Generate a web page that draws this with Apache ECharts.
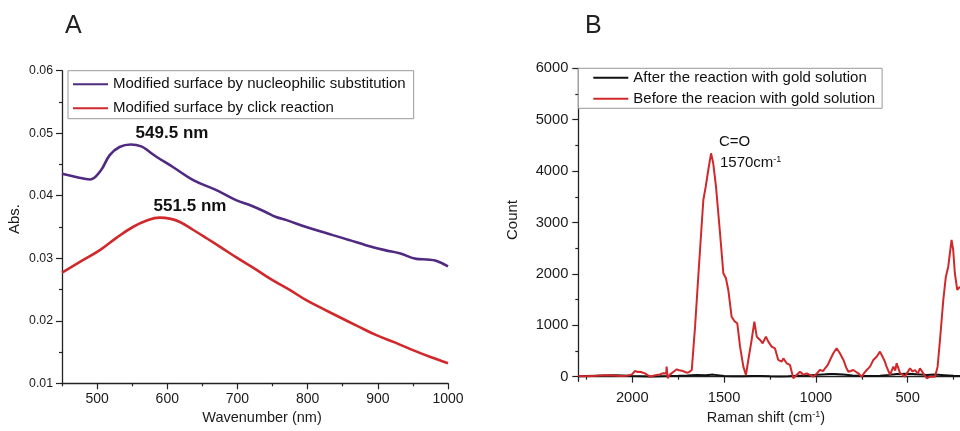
<!DOCTYPE html>
<html><head><meta charset="utf-8">
<script src="https://cdn.jsdelivr.net/npm/echarts@6/dist/echarts.min.js"></script>
<style>html,body{margin:0;padding:0;background:#fff}#c{width:960px;height:431px}</style>
</head><body><div id="c"></div>
<script>
// ---- Panel A data (UV-vis) ----
const uvNucleo = [[450,0.0435],[470,0.0430],[490,0.0426],[505,0.0440],[518,0.0465],[532,0.0478],[548,0.0482],[563,0.0479],[575,0.0470],[585,0.0462],[608,0.0446],[637,0.0425],[670,0.0409],[698,0.0393],[720,0.0384],[740,0.0374],[755,0.0366],[770,0.0361],[798,0.0350],[836,0.0337],[860,0.0329],[883,0.0321],[910,0.0313],[931,0.0308],[955,0.0299],[970,0.0298],[983,0.0296],[1000,0.0287]];
const uvClick = [[450,0.0277],[475,0.0294],[504,0.0313],[528,0.0333],[551,0.0350],[570,0.0360],[589,0.0365],[605,0.0363],[618,0.0358],[636,0.0346],[656,0.0332],[677,0.0317],[699,0.0301],[725,0.0283],[750,0.0265],[775,0.0249],[798,0.0233],[822,0.0219],[845,0.0206],[872,0.0191],[898,0.0177],[925,0.0165],[950,0.0153],[975,0.0142],[1000,0.0132]];
const uvNames = ['Modified surface by nucleophilic substitution','Modified surface by click reaction'];
const uvXTicks = [500,600,700,800,900,1000];
const uvXMinor = [450,550,650,750,850,950];
const uvYTicks = [0.01,0.02,0.03,0.04,0.05,0.06];
const uvYMinor = [0.015,0.025,0.035,0.045,0.055];

// ---- Panel B data (Raman) ----
const ramanAfter = [[2294,10],[2250,15],[2200,20],[2150,25],[2100,28],[2050,22],[2000,15],[1950,10],[1900,5],[1850,8],[1800,12],[1750,18],[1700,25],[1650,35],[1600,30],[1560,40],[1500,15],[1450,8],[1400,10],[1350,15],[1300,12],[1250,8],[1200,5],[1150,10],[1100,18],[1050,25],[1000,35],[950,45],[925,52],[900,50],[850,40],[800,25],[750,15],[700,12],[650,20],[600,35],[560,50],[500,55],[450,45],[400,35],[350,40],[300,30],[250,20],[215,15]];
const ramanBefore = [[2294,14],[2250,10],[2194,20],[2150,30],[2103,25],[2060,15],[2031,20],[2003,40],[1985,111],[1970,90],[1958,97],[1945,80],[1931,65],[1904,0],[1885,20],[1867,33],[1850,45],[1831,65],[1815,60],[1813,195],[1807,-30],[1795,40],[1785,65],[1770,110],[1758,143],[1745,125],[1731,117],[1715,95],[1704,78],[1692,85],[1682,97],[1676,130],[1658,973],[1645,1700],[1631,2465],[1613,3438],[1600,3697],[1586,4021],[1571,4346],[1559,4151],[1544,3697],[1522,2790],[1504,2012],[1490,1914],[1477,1687],[1459,1167],[1450,1180],[1441,1070],[1428,1039],[1413,584],[1395,195],[1381,33],[1368,325],[1350,714],[1335,1070],[1322,778],[1304,714],[1290,650],[1272,778],[1259,681],[1241,584],[1223,552],[1205,325],[1186,292],[1177,357],[1159,260],[1141,228],[1123,-31],[1105,33],[1087,97],[1068,40],[1050,65],[1030,30],[1014,0],[995,60],[978,130],[960,110],[950,163],[935,230],[923,325],[905,455],[887,552],[869,455],[850,325],[835,180],[823,97],[810,110],[796,130],[780,90],[769,65],[750,0],[735,80],[723,130],[705,195],[687,325],[669,389],[651,487],[637,389],[625,300],[615,195],[596,33],[578,195],[568,120],[560,260],[541,65],[528,40],[515,0],[500,90],[487,163],[473,100],[460,130],[445,60],[433,163],[415,65],[396,-31],[378,0],[351,0],[337,195],[324,714],[306,1492],[292,1946],[279,2140],[261,2660],[252,2465],[243,2012],[230,1687],[215,1751]];
const ramanNames = ['After the reaction with gold solution','Before the reacion with gold solution'];
const ramanXTicks = [500,1000,1500,2000];
const ramanXMinor = [250,750,1250,1750,2250];
const ramanYTicks = [0,1000,2000,3000,4000,5000,6000];
const ramanYMinor = [500,1500,2500,3500,4500,5500];

const FONT = 'Liberation Sans, Arial, sans-serif';
const axisCol = '#222';
const purple = '#4f2a80', red = '#d0282b';

function axis(type, gridIndex, opts, ticks, minor, labelSize, fmt, margin) {
  const common = Object.assign({type:'value', gridIndex, splitLine:{show:false}}, opts);
  const major = Object.assign({}, common, {
    axisLine:{show:true, lineStyle:{color:axisCol, width:1.3}},
    axisTick:{show:true, inside:false, length:6, customValues:ticks, lineStyle:{color:axisCol, width:1.2}},
    axisLabel:{show:true, customValues:ticks, color:'#1a1a1a', fontFamily:FONT, fontSize:labelSize, margin:margin, formatter:fmt},
  });
  const min = Object.assign({}, common, {
    axisLine:{show:false},
    axisTick:{show:true, inside:false, length:3, customValues:minor, lineStyle:{color:axisCol, width:1.2}},
    axisLabel:{show:false},
  });
  return [major, min];
}

const xA = axis('x',0,{min:450,max:1000,position:'bottom'},uvXTicks,uvXMinor,14,v=>String(v),9);
const yA = axis('y',0,{min:0.01,max:0.06,position:'left'},uvYTicks,uvYMinor,12.3,v=>v.toFixed(2),9);
const xB = axis('x',1,{min:215,max:2294,inverse:true,position:'bottom'},ramanXTicks,ramanXMinor,14.7,v=>String(v),9);
const yB = axis('y',1,{min:-90,max:6000,position:'left'},ramanYTicks,ramanYMinor,14.7,v=>String(v),10);

const chart = echarts.init(document.getElementById('c'), null, {renderer:'canvas'});
chart.setOption({
  backgroundColor:'#fff',
  animation:false,
  grid:[
    {left:62, right:512, top:70.7, bottom:47.7},
    {left:578.3, right:0, top:68.3, bottom:49.7}
  ],
  xAxis:[xA[0], xA[1], xB[0], xB[1]],
  yAxis:[yA[0], yA[1], yB[0], yB[1]],
  legend:[
    {data:uvNames, orient:'vertical', left:68, top:70.7, itemWidth:35, itemHeight:14, itemGap:9, itemStyle:{opacity:0},
     padding:[6,8,3,4], borderColor:'#999', borderWidth:1, backgroundColor:'#fff', selectedMode:false,
     textStyle:{fontFamily:FONT, fontSize:15, color:'#111'}},
    {data:ramanNames, orient:'vertical', left:578.3, top:68.3, itemWidth:35, itemHeight:12, itemGap:6, itemStyle:{opacity:0},
     padding:[2,7,2,14], borderColor:'#999', borderWidth:1, backgroundColor:'#fff', selectedMode:false,
     textStyle:{fontFamily:FONT, fontSize:15, color:'#111'}}
  ],
  series:[
    {name:uvNames[0], type:'line', xAxisIndex:0, yAxisIndex:0, data:uvNucleo, smooth:0.4, showSymbol:false, symbol:'none', lineStyle:{color:purple, width:2.6}, itemStyle:{color:purple}},
    {name:uvNames[1], type:'line', xAxisIndex:0, yAxisIndex:0, data:uvClick, smooth:0.4, showSymbol:false, symbol:'none', lineStyle:{color:red, width:2.6}, itemStyle:{color:red}},
    {name:ramanNames[0], type:'line', xAxisIndex:2, yAxisIndex:2, data:ramanAfter, showSymbol:false, symbol:'none', lineStyle:{color:'#111', width:2}, itemStyle:{color:'#111'}},
    {name:ramanNames[1], type:'line', xAxisIndex:2, yAxisIndex:2, data:ramanBefore, showSymbol:false, symbol:'none', lineStyle:{color:red, width:2}, itemStyle:{color:red}}
  ],
  graphic:[
    {type:'text', left:65, top:14, style:{text:'A', font:'25px '+FONT, fill:'#222'}},
    {type:'text', left:585, top:14, style:{text:'B', font:'25px '+FONT, fill:'#222'}},
    {type:'text', x:262, y:418, style:{text:'Wavenumber (nm)', font:'14.5px '+FONT, fill:'#1a1a1a', align:'center', verticalAlign:'middle'}},
    {type:'text', x:15, y:219, rotation:Math.PI/2, style:{text:'Abs.', font:'15px '+FONT, fill:'#1a1a1a', align:'center', verticalAlign:'middle'}},
    {type:'text', x:513, y:220, rotation:Math.PI/2, style:{text:'Count', font:'15px '+FONT, fill:'#1a1a1a', align:'center', verticalAlign:'middle'}},
    {type:'text', x:766, y:418, style:{text:'Raman shift (cm{s|-1})', rich:{s:{fontSize:9, fontFamily:FONT, verticalAlign:'top', fill:'#1a1a1a'}}, font:'14.5px '+FONT, fill:'#1a1a1a', align:'center', verticalAlign:'middle'}},
    {type:'text', x:172, y:133.3, style:{text:'549.5 nm', font:'bold 17px '+FONT, fill:'#111', align:'center', verticalAlign:'middle'}},
    {type:'text', x:190, y:206, style:{text:'551.5 nm', font:'bold 17px '+FONT, fill:'#111', align:'center', verticalAlign:'middle'}},
    {type:'text', x:719, y:142, style:{text:'C=O', font:'15px '+FONT, fill:'#111', align:'left', verticalAlign:'middle'}},
    {type:'text', x:720, y:163, style:{text:'1570cm{s|-1}', rich:{s:{fontSize:9, fontFamily:FONT, verticalAlign:'top', fill:'#111'}}, font:'15px '+FONT, fill:'#111', align:'left', verticalAlign:'middle'}}
  ]
});
</script></body></html>
